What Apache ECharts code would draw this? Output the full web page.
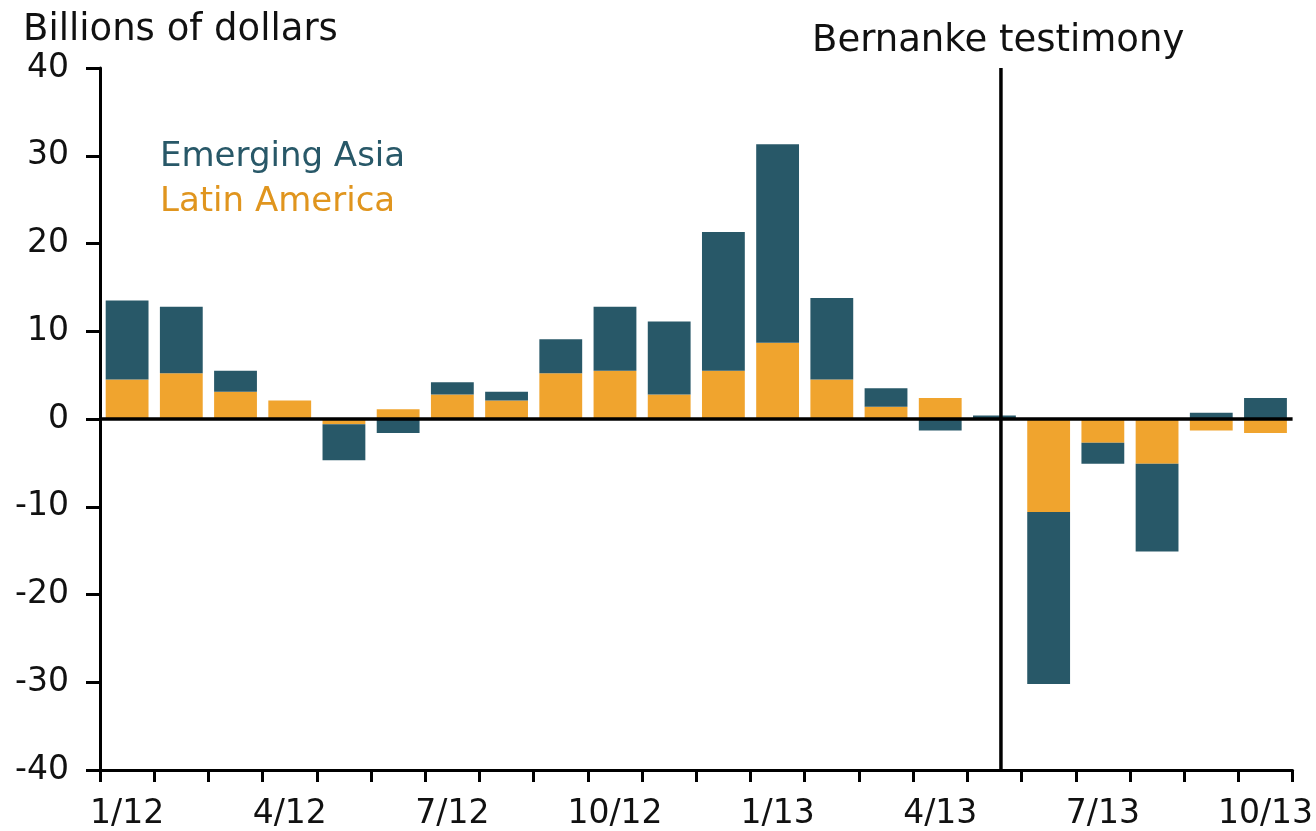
<!DOCTYPE html>
<html>
<head>
<meta charset="utf-8">
<script src="https://cdn.jsdelivr.net/npm/echarts@6/dist/echarts.min.js"></script>
<style>
  html, body { margin: 0; padding: 0; background: #fff; }
  #chart { width: 1316px; height: 831px; }
</style>
</head>
<body>
<div id="chart"></div>
<script>
const months = ['1/12','2/12','3/12','4/12','5/12','6/12','7/12','8/12','9/12','10/12','11/12','12/12',
                '1/13','2/13','3/13','4/13','5/13','6/13','7/13','8/13','9/13','10/13'];
const latinAmerica = [4.5, 5.2, 3.1, 2.1, -0.6, 1.1, 2.8, 2.1, 5.2, 5.5, 2.8, 5.5,
                      8.7, 4.5, 1.4, 2.4, 0, -10.6, -2.7, -5.1, -1.3, -1.6];
const emergingAsia = [9.0, 7.6, 2.4, 0, -4.1, -1.6, 1.4, 1.0, 3.9, 7.3, 8.3, 15.8,
                      22.6, 9.3, 2.1, -1.3, 0.4, -19.6, -2.4, -10.0, 0.7, 2.4];
const yTicks = [-40, -30, -20, -10, 0, 10, 20, 30, 40];
const bernankePos = 16.62; // position in months from the start of 1/12
const FONT = 'DejaVu Sans';
const ASIA = '#285868';
const LATAM = '#F0A42E';

const chart = echarts.init(document.getElementById('chart'), null, { renderer: 'canvas' });
const option = {
  animation: false,
  backgroundColor: '#fff',
  textStyle: { fontFamily: FONT },
  title: [
    { text: 'Billions of dollars', left: 18, top: 7,
      textStyle: { fontFamily: FONT, fontSize: 37, fontWeight: 'normal', color: '#111' } },
    { text: 'Bernanke testimony', left: 807, top: 18,
      textStyle: { fontFamily: FONT, fontSize: 37, fontWeight: 'normal', color: '#111' } }
  ],
  legend: {
    orient: 'vertical', left: 150, top: 135, itemGap: 11,
    itemWidth: 0, itemHeight: 0, icon: 'rect',
    selectedMode: false,
    textStyle: { fontFamily: FONT, fontSize: 34 },
    data: [
      { name: 'Emerging Asia', textStyle: { color: ASIA } },
      { name: 'Latin America', textStyle: { color: '#E0951E' } }
    ]
  },
  grid: { left: 100, right: 22, top: 68, bottom: 59, containLabel: false },
  xAxis: [
    {
      type: 'category', data: months, boundaryGap: true,
      axisLine: { show: true, onZero: false, lineStyle: { color: '#000', width: 3 } },
      axisTick: { show: true, interval: 0, length: 12, lineStyle: { color: '#000', width: 3 } },
      axisLabel: { interval: 2, margin: 28, fontFamily: FONT, fontSize: 33, color: '#111' },
      splitLine: { show: false }
    },
    {
      type: 'value', min: 0, max: months.length, show: false
    }
  ],
  yAxis: {
    type: 'value', min: yTicks[0], max: yTicks[yTicks.length - 1], interval: 10,
    axisLine: { show: true, onZero: false, lineStyle: { color: '#000', width: 3 } },
    axisTick: { show: true, length: 14, lineStyle: { color: '#000', width: 3 } },
    axisLabel: { margin: 31, fontFamily: FONT, fontSize: 33, color: '#111' },
    splitLine: { show: false }
  },
  series: [
    {
      name: 'Latin America', type: 'bar', stack: 'flows', data: latinAmerica,
      barWidth: '79%', itemStyle: { color: LATAM },
      markLine: {
        silent: true, symbol: ['none', 'none'], label: { show: false },
        lineStyle: { color: '#000', width: 3.5, type: 'solid' },
        data: [{ yAxis: 0 }]
      }
    },
    {
      name: 'Emerging Asia', type: 'bar', stack: 'flows', data: emergingAsia,
      barWidth: '79%', itemStyle: { color: ASIA }
    },
    {
      name: 'Bernanke testimony', type: 'line', xAxisIndex: 1,
      data: [[bernankePos, yTicks[0]], [bernankePos, yTicks[yTicks.length - 1]]],
      symbol: 'none', silent: true, z: 5,
      lineStyle: { color: '#000', width: 3.5 }
    }
  ]
};
chart.setOption(option);
</script>
</body>
</html>
